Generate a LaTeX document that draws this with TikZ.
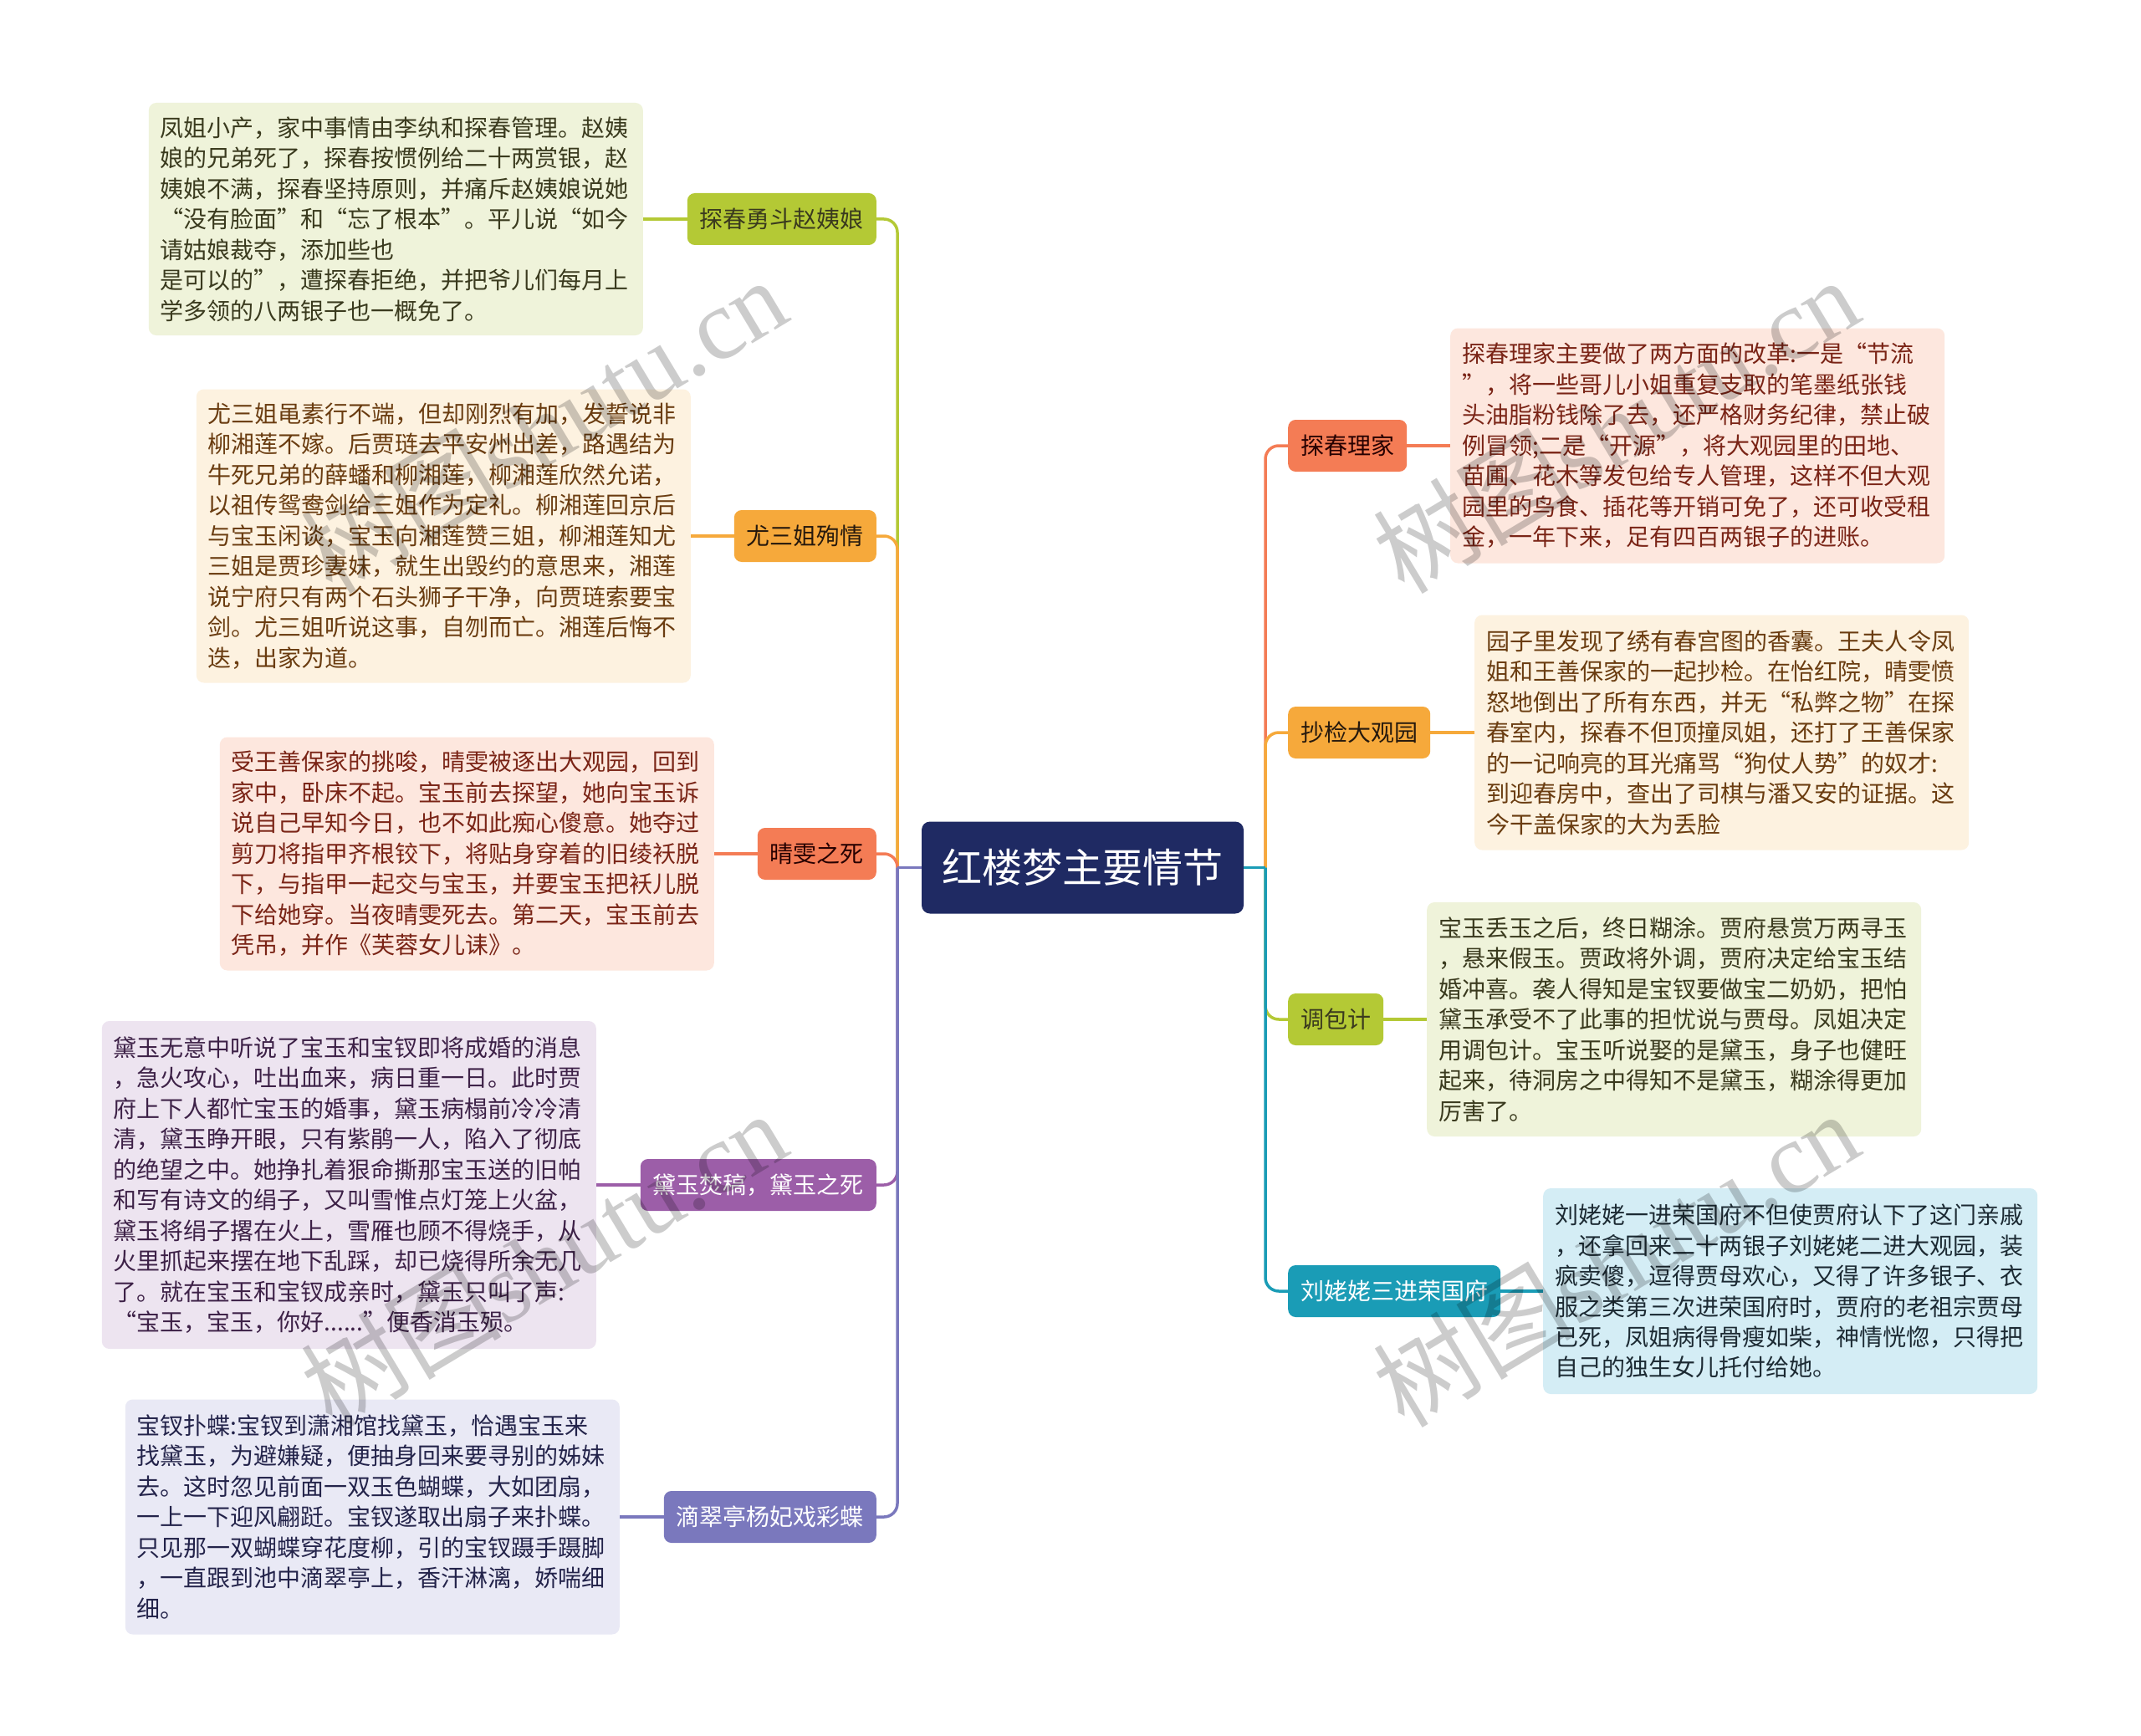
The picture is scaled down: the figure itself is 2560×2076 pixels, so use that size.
\documentclass[tikz,border=0pt]{standalone}
\usepackage{fontspec}
\setmainfont{Noto Sans CJK SC}
\newfontfamily\fwq[RawFeature=+fwid]{Noto Sans CJK SC}
\newfontfamily\wmfont{Liberation Serif}
\newcommand{\zq}{{\fwq “}}
\newcommand{\yq}{{\fwq ”}}
\definecolor{cNavy}{HTML}{1F2A63}
\definecolor{cGreen}{HTML}{B4C935}
\definecolor{cOrange}{HTML}{F6A93B}
\definecolor{cRed}{HTML}{F47C55}
\definecolor{cPurple}{HTML}{9C5EA8}
\definecolor{cViolet}{HTML}{7A78BD}
\definecolor{cTeal}{HTML}{1A9CB6}
\definecolor{fGreen}{HTML}{EFF3DA}
\definecolor{fCream}{HTML}{FDF2E0}
\definecolor{fPink}{HTML}{FDE7DE}
\definecolor{fLav}{HTML}{EDE4F0}
\definecolor{fLavB}{HTML}{E9E9F5}
\definecolor{fBlue}{HTML}{D4EDF5}
\definecolor{tGreen}{HTML}{3A3A1E}
\definecolor{tBrown}{HTML}{6A3C10}
\definecolor{tRed}{HTML}{7A2416}
\definecolor{tPurple}{HTML}{3D2147}
\definecolor{tNavy}{HTML}{23234A}
\definecolor{tBlue}{HTML}{1C2A33}
\tikzset{
  lbl/.style={rounded corners=9pt, minimum height=62pt, inner xsep=15pt, inner ysep=0pt,
    font=\fontsize{28}{34}\selectfont},
  txt/.style={rounded corners=9pt, text width=563pt, inner xsep=14pt, inner ysep=4pt,
    align=left, minimum width=591pt, font=\fontsize{28}{36.5}\selectfont},
  br/.style={line width=3.5pt, rounded corners=16pt},
  wm/.style={text=black, opacity=0.2, font=\fontsize{120}{120}\selectfont, inner sep=0pt},
}
\begin{document}
\begin{tikzpicture}[x=1pt,y=-1pt]
\useasboundingbox (0,0) rectangle (2560,2076);
\fill[white] (0,0) rectangle (2560,2076);

% center
\node[fill=cNavy, text=white, rounded corners=10pt, minimum width=385pt, minimum height=110pt,
  inner sep=0pt, font=\fontsize{48}{56}\selectfont] (c) at (1294.5,1037.5) {红楼梦主要情节};
\coordinate (sl) at (1073,1037.5);
\coordinate (sr) at (1513,1037.5);

% left labels
\node[lbl, fill=cGreen, text=tGreen, anchor=east] (l1) at (1048,262) {探春勇斗赵姨娘};
\node[lbl, fill=cOrange, text=black!80!brown, anchor=east] (l2) at (1048,641) {尤三姐殉情};
\node[lbl, fill=cRed, text=black!85!red, anchor=east] (l3) at (1048,1021) {晴雯之死};
\node[lbl, fill=cPurple, text=white, anchor=east] (l4) at (1048,1417) {黛玉焚稿，黛玉之死};
\node[lbl, fill=cViolet, text=white, anchor=east] (l5) at (1048,1814) {滴翠亭杨妃戏彩蝶};

% right labels
\node[lbl, fill=cRed, text=black!85!red, anchor=west] (r1) at (1540,533) {探春理家};
\node[lbl, fill=cOrange, text=black!80!brown, anchor=west] (r2) at (1540,876) {抄检大观园};
\node[lbl, fill=cGreen, text=tGreen, anchor=west] (r3) at (1540,1219) {调包计};
\node[lbl, fill=cTeal, text=white, anchor=west] (r4) at (1540,1544) {刘姥姥三进荣国府};

% left text blocks
\node[txt, fill=fGreen, text=tGreen, minimum height=278pt, anchor=east] (b1) at (769,262) {凤姐小产，家中事情由李纨和探春管理。赵姨\\
娘的兄弟死了，探春按惯例给二十两赏银，赵\\
姨娘不满，探春坚持原则，并痛斥赵姨娘说她\\
\zq 没有脸面\yq 和\zq 忘了根本\yq 。平儿说\zq 如今\\
请姑娘裁夺，添加些也\\
是可以的\yq ，遭探春拒绝，并把爷儿们每月上\\
学多领的八两银子也一概免了。};

\node[txt, fill=fCream, text=tBrown, minimum height=351pt, anchor=east] (b2) at (826,641) {尤三姐黾素行不端，但却刚烈有加，发誓说非\\
柳湘莲不嫁。后贾琏去平安州出差，路遇结为\\
牛死兄弟的薛蟠和柳湘莲，柳湘莲欣然允诺，\\
以祖传鸳鸯剑给三姐作为定礼。柳湘莲回京后\\
与宝玉闲谈，宝玉向湘莲赞三姐，柳湘莲知尤\\
三姐是贾珍妻妹，就生出毁约的意思来，湘莲\\
说宁府只有两个石头狮子干净，向贾琏索要宝\\
剑。尤三姐听说这事，自刎而亡。湘莲后悔不\\
迭，出家为道。};

\node[txt, fill=fPink, text=tRed, minimum height=279pt, anchor=east] (b3) at (854,1021) {受王善保家的挑唆，晴雯被逐出大观园，回到\\
家中，卧床不起。宝玉前去探望，她向宝玉诉\\
说自己早知今日，也不如此痴心傻意。她夺过\\
剪刀将指甲齐根铰下，将贴身穿着的旧绫袄脱\\
下，与指甲一起交与宝玉，并要宝玉把袄儿脱\\
下给她穿。当夜晴雯死去。第二天，宝玉前去\\
凭吊，并作《芙蓉女儿诔》。};

\node[txt, fill=fLav, text=tPurple, minimum height=392pt, anchor=east] (b4) at (713,1417) {黛玉无意中听说了宝玉和宝钗即将成婚的消息\\
，急火攻心，吐出血来，病日重一日。此时贾\\
府上下人都忙宝玉的婚事，黛玉病榻前冷冷清\\
清，黛玉睁开眼，只有紫鹃一人，陷入了彻底\\
的绝望之中。她挣扎着狠命撕那宝玉送的旧帕\\
和写有诗文的绢子，又叫雪惟点灯笼上火盆，\\
黛玉将绢子撂在火上，雪雁也顾不得烧手，从\\
火里抓起来摆在地下乱踩，却已烧得所余无几\\
了。就在宝玉和宝钗成亲时，黛玉只叫了声:\\
\zq 宝玉，宝玉，你好......\yq 便香消玉殒。};

\node[txt, fill=fLavB, text=tNavy, minimum height=281pt, anchor=east] (b5) at (741,1814) {宝钗扑蝶:宝钗到潇湘馆找黛玉，恰遇宝玉来\\
找黛玉，为避嫌疑，便抽身回来要寻别的姊妹\\
去。这时忽见前面一双玉色蝴蝶，大如团扇，\\
一上一下迎风翩跹。宝钗遂取出扇子来扑蝶。\\
只见那一双蝴蝶穿花度柳，引的宝钗蹑手蹑脚\\
，一直跟到池中滴翠亭上，香汗淋漓，娇喘细\\
细。};

% right text blocks
\node[txt, fill=fPink, text=tRed, minimum height=281pt, anchor=west] (t1) at (1734,533) {探春理家主要做了两方面的改革:一是\zq 节流\\
\yq ，将一些哥儿小姐重复支取的笔墨纸张钱\\
头油脂粉钱除了去，还严格财务纪律，禁止破\\
例冒领;二是\zq 开源\yq ，将大观园里的田地、\\
苗圃、花木等发包给专人管理，这样不但大观\\
园里的鸟食、插花等开销可免了，还可收受租\\
金，一年下来，足有四百两银子的进账。};

\node[txt, fill=fCream, text=tBrown, minimum height=281pt, anchor=west] (t2) at (1763,876) {园子里发现了绣有春宫图的香囊。王夫人令凤\\
姐和王善保家的一起抄检。在怡红院，晴雯愤\\
怒地倒出了所有东西，并无\zq 私弊之物\yq 在探\\
春室内，探春不但顶撞凤姐，还打了王善保家\\
的一记响亮的耳光痛骂\zq 狗仗人势\yq 的奴才:\\
到迎春房中，查出了司棋与潘又安的证据。这\\
今干盖保家的大为丢脸};

\node[txt, fill=fGreen, text=tGreen, minimum height=280pt, anchor=west] (t3) at (1706,1219) {宝玉丢玉之后，终日糊涂。贾府悬赏万两寻玉\\
，悬来假玉。贾政将外调，贾府决定给宝玉结\\
婚冲喜。袭人得知是宝钗要做宝二奶奶，把怕\\
黛玉承受不了此事的担忧说与贾母。凤姐决定\\
用调包计。宝玉听说娶的是黛玉，身子也健旺\\
起来，待洞房之中得知不是黛玉，糊涂得更加\\
厉害了。};

\node[txt, fill=fBlue, text=tBlue, minimum height=246pt, anchor=west] (t4) at (1845,1544) {刘姥姥一进荣国府不但使贾府认下了这门亲戚\\
，还拿回来二十两银子刘姥姥二进大观园，装\\
疯卖傻，逗得贾母欢心，又得了许多银子、衣\\
服之类第三次进荣国府时，贾府的老祖宗贾母\\
已死，凤姐病得骨瘦如柴，神情恍惚，只得把\\
自己的独生女儿托付给她。};

% branches left
\draw[br, cGreen] (sl) |- (l1.east);
\draw[br, cOrange] (sl) |- (l2.east);
\draw[br, cRed] (sl) |- (l3.east);
\draw[br, cPurple] (sl) |- (l4.east);
\draw[br, cViolet] (sl) |- (l5.east);
\draw[line width=3.5pt, cViolet] (c.west) -- (sl);
% branches right
\draw[br, cRed] (sr) |- (r1.west);
\draw[br, cOrange] (sr) |- (r2.west);
\draw[br, cGreen] (sr) |- (r3.west);
\draw[br, cTeal] (sr) |- (r4.west);
\draw[line width=3.5pt, cTeal] (c.east) -- (sr);

% label to text
\draw[line width=3.5pt, cGreen] (l1.west) -- (b1.east);
\draw[line width=3.5pt, cOrange] (l2.west) -- (b2.east);
\draw[line width=3.5pt, cRed] (l3.west) -- (b3.east);
\draw[line width=3.5pt, cPurple] (l4.west) -- (b4.east);
\draw[line width=3.5pt, cViolet] (l5.west) -- (b5.east);
\draw[line width=3.5pt, cRed] (r1.east) -- (t1.west);
\draw[line width=3.5pt, cOrange] (r2.east) -- (t2.west);
\draw[line width=3.5pt, cGreen] (r3.east) -- (t3.west);
\draw[line width=3.5pt, cTeal] (r4.east) -- (t4.west);

% watermarks
\node[wm, rotate=31] (w1) at (650,508) {树图{\wmfont shutu.cn}};
\node[wm, rotate=31] (w2) at (1932,508) {树图{\wmfont shutu.cn}};
\node[wm, rotate=31] (w3) at (650,1505) {树图{\wmfont shutu.cn}};
\node[wm, rotate=31] (w4) at (1932,1505) {树图{\wmfont shutu.cn}};
\end{tikzpicture}
\end{document}
